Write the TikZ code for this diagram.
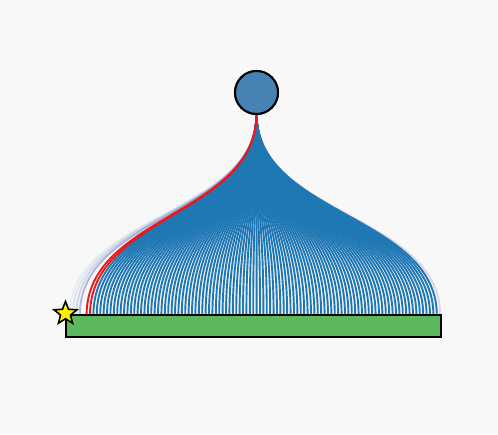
\documentclass[tikz,border=0pt]{standalone}
\usetikzlibrary{shapes.geometric}
\definecolor{bggray}{HTML}{F8F8F8}
\definecolor{linkblue}{HTML}{1F77B4}
\definecolor{rootblue}{HTML}{4682B4}
\definecolor{goalgreen}{HTML}{5CB85C}
\definecolor{fadeblue}{HTML}{7B8FC7}
\definecolor{fadelilac}{HTML}{DCD5E8}
\definecolor{pathred}{HTML}{E8191C}

\begin{document}
\begin{tikzpicture}[x=1pt,y=-1pt,
  link/.style={line width=1.9pt,linkblue},
  rootnode/.style={circle,draw=black,line width=2pt,fill=rootblue,minimum size=43pt,inner sep=0pt,outer sep=0pt},
  goalbox/.style={rectangle,draw=black,line width=2pt,fill=goalgreen,minimum width=375pt,minimum height=22pt,inner sep=0pt,outer sep=0pt},
  startstar/.style={star,star points=5,star point ratio=2.3,draw=black,line width=1.6pt,fill=yellow,minimum size=24pt,inner sep=0pt}]
\fill[bggray] (0,0) rectangle (498,434);
\useasboundingbox (0,0) rectangle (498,434);
\node[rootnode] (root) at (256.5,92.5) {};
\coordinate (mid) at (0,215);
\foreach \i in {0,...,109} {
   \coordinate (leaf\i) at (69.6+3.4*\i,315);
}
% faint outer runs
\draw[link,fadelilac] (root.south) .. controls (root |- mid) and (leaf109 |- mid) .. (leaf109);
\foreach \i/\o in %
{0/0.12,1/0.2,2/0.32,3/0.6} {
   \draw[link,fadeblue,opacity=\o] (root.south) .. controls (root |- mid) and (leaf\i |- mid) .. (leaf\i);
}
% main runs
\foreach \i in {7,...,108} {
   \draw[link] (root.south) .. controls (root |- mid) and (leaf\i |- mid) .. (leaf\i);
}
% best runs
\foreach \i in {5,6} {
   \draw[link,pathred] (root.south) .. controls (root |- mid) and (leaf\i |- mid) .. (leaf\i);
}
\node[rootnode] at (root) {};
\node[goalbox] (goal) at (253.5,326) {};
\node[startstar] (start) at (65.5,313.5) {};
\end{tikzpicture}
\end{document}
